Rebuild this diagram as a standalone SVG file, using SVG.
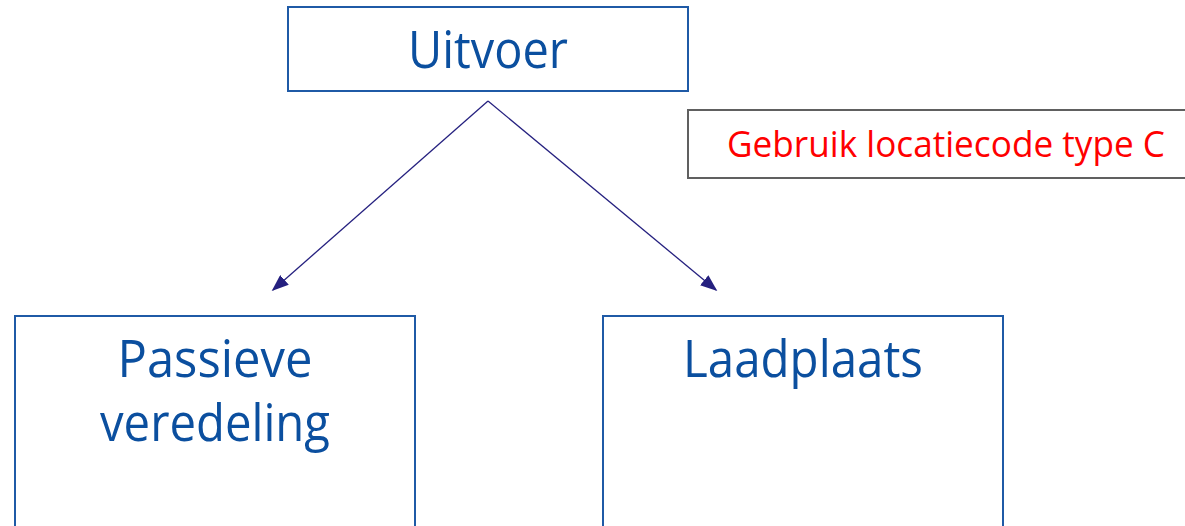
<svg xmlns="http://www.w3.org/2000/svg" width="1185" height="526" viewBox="0 0 1185 526">
<style>
.box{fill:#fff;stroke:#1f5aa6;stroke-width:2}
.t{font-family:"Open Sans","Noto Sans","Liberation Sans",sans-serif;font-size:51px;fill:#0b4f9f;text-anchor:middle}
.note{fill:#fff;stroke:#606060;stroke-width:2}
.nt{font-family:"Open Sans","Noto Sans","Liberation Sans",sans-serif;font-size:36px;fill:#ff0000}
.c{stroke:#25207f;stroke-width:1.3;fill:none}
</style>
<defs>
<marker id="ah" viewBox="0 0 10 10" refX="9" refY="5" markerWidth="17" markerHeight="13" markerUnits="userSpaceOnUse" orient="auto" preserveAspectRatio="none">
<path d="M0,0 L10,5 L0,10 z" fill="#25207f"/>
</marker>
</defs>
<rect width="1185" height="526" fill="#fff"/>
<g id="connectors">
<line class="c" x1="488" y1="101" x2="273" y2="290" marker-end="url(#ah)"/>
<line class="c" x1="488" y1="101" x2="716" y2="290" marker-end="url(#ah)"/>
</g>
<g id="uitvoer">
<rect class="box" x="288" y="7" width="400" height="84"/>
<text class="t" x="488" y="68" textLength="160" lengthAdjust="spacingAndGlyphs">Uitvoer</text>
</g>
<g id="note">
<rect class="note" x="688" y="110" width="510" height="68"/>
<text class="nt" x="727" y="157" textLength="438" lengthAdjust="spacingAndGlyphs">Gebruik locatiecode type C</text>
</g>
<g id="passieve">
<rect class="box" x="15" y="316" width="400" height="230"/>
<text class="t" x="215" y="377" textLength="195" lengthAdjust="spacingAndGlyphs">Passieve</text>
<text class="t" x="215" y="441" textLength="230" lengthAdjust="spacingAndGlyphs">veredeling</text>
</g>
<g id="laadplaats">
<rect class="box" x="603" y="316" width="400" height="230"/>
<text class="t" x="803" y="377" textLength="240" lengthAdjust="spacingAndGlyphs">Laadplaats</text>
</g>
</svg>
